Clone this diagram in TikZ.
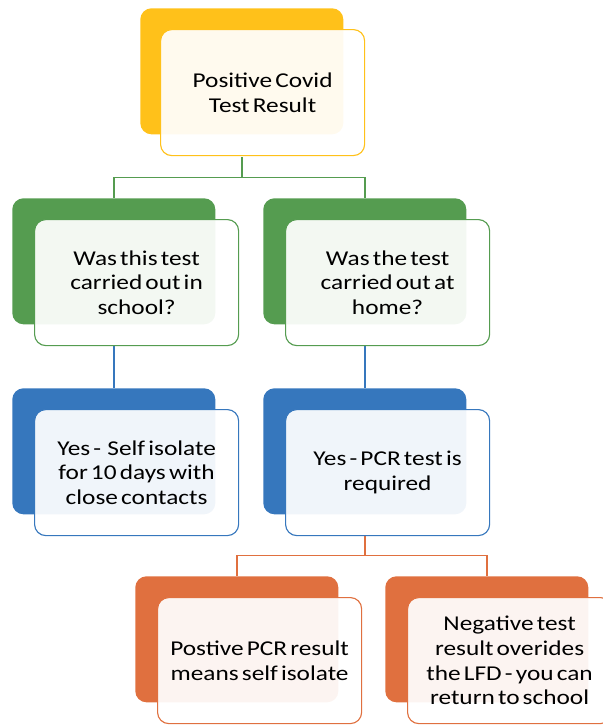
\documentclass[tikz,border=0pt]{standalone}
\usepackage{fontspec}
\setmainfont{Carlito}[FakeStretch=1.2, WordSpace=0.55]
\usepackage{xcolor}
\usetikzlibrary{calc}

\definecolor{jaune}{HTML}{FFC11A}
\definecolor{vert}{HTML}{559C50}
\definecolor{bleu}{HTML}{3677BD}
\definecolor{orange}{HTML}{E0703F}

\tikzset{
  fond/.style={fill=#1, rounded corners=8pt, inner sep=0pt, anchor=north west,
    minimum width=5.075cm, minimum height=3.15cm},
  cadre/.style={draw=#1, line width=0.8pt, fill=white, fill opacity=0.93, text opacity=1,
    rounded corners=8pt, inner sep=0pt, anchor=north west, align=center,
    minimum width=5.1cm, minimum height=3.15cm, font=\fontsize{15}{17.6}\selectfont},
  lien/.style={draw=#1, line width=1pt}
}

\begin{document}
\begin{tikzpicture}[x=0.025cm,y=-0.025cm]
      \useasboundingbox (0,0) rectangle (603,725);

      % Fonds
      \node[fond=jaune] (resultatF) at (140,8) {};
      \node[fond=vert] (ecoleF) at (12,198) {};
      \node[fond=vert] (maisonF) at (263,198) {};
      \node[fond=bleu] (isolerF) at (12,388) {};
      \node[fond=bleu] (pcrF) at (263,388) {};
      \node[fond=orange] (positifF) at (135,576) {};
      \node[fond=orange] (negatifF) at (385,576) {};

      % Liaisons
      \coordinate (j1) at ($(resultatF.center |- 0,157)!0.5!(ecoleF.north)$);
      \draw[lien=vert] (resultatF.center |- 0,157) -- (resultatF.center |- j1) -| (ecoleF.north);
      \draw[lien=vert] (resultatF.center |- j1) -| (maisonF.north);
      \draw[lien=bleu] (ecoleF.center |- 0,345) -- (isolerF.north);
      \draw[lien=bleu] (maisonF.center |- 0,345) -- (pcrF.north);
      \coordinate (j2) at ($(pcrF.center |- 0,535)!0.5!(negatifF.north)$);
      \draw[lien=orange] (pcrF.center |- 0,535) -- (pcrF.center |- j2) -| (positifF.north);
      \draw[lien=orange] (pcrF.center |- j2) -| (negatifF.north);

      % Cadres
      \node[cadre=jaune] (resultat) at (160,29) {Positive Covid\\Test Result};
      \node[cadre=vert] (ecole) at (34,219) {Was this test\\carried out in\\school?};
      \node[cadre=vert] (maison) at (285,219) {Was the test\\carried out at\\home?};
      \node[cadre=bleu] (isoler) at (34,409) {Yes -\ \ Self isolate\\for 10 days with\\close contacts};
      \node[cadre=bleu] (pcr) at (285,409) {Yes - PCR test is\\required};
      \node[cadre=orange] (positif) at (157,597) {Postive PCR result\\means self isolate};
      \node[cadre=orange] (negatif) at (407,597) {Negative test\\result overides\\the LFD - you can\\return to school};
    \end{tikzpicture}
\end{document}
